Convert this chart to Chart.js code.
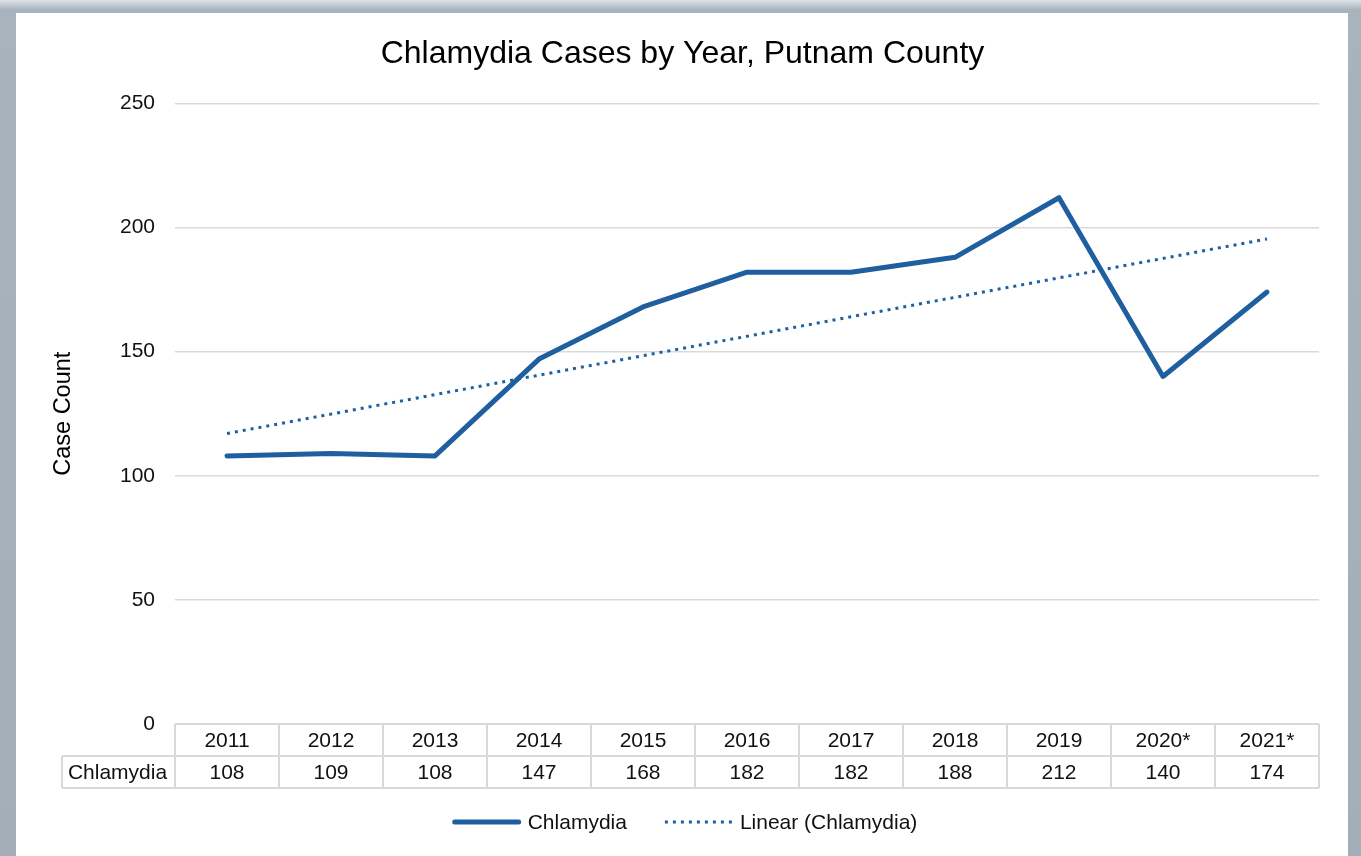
<!DOCTYPE html>
<html>
<head>
<meta charset="utf-8">
<script src="https://cdn.jsdelivr.net/npm/chart.js@4.4.1/dist/chart.umd.min.js"></script>
<style>
  html, body { margin: 0; padding: 0; }
  body {
    width: 1361px; height: 856px; overflow: hidden;
    background: linear-gradient(to bottom, #dde2e7 0px, #a8b3be 10px, #a3aeb9 100%);
    position: relative;
  }
  #panel {
    position: absolute; left: 16px; top: 13px;
    width: 1332px; height: 843px; background: #fff;
  }
</style>
</head>
<body>
<div id="panel"><canvas id="chlamydiaChart"></canvas></div>
<script>
// chart data
const years = ['2011', '2012', '2013', '2014', '2015', '2016', '2017', '2018', '2019', '2020*', '2021*'];
const cases = [108, 109, 108, 147, 168, 182, 182, 188, 212, 140, 174];
// linear trendline end points
const trendStart = 117;
const trendEnd = 195.4;
const yMin = 0;
const yMax = 250;
const yStep = 50;

const seriesName = 'Chlamydia';
const trendName = 'Linear (Chlamydia)';
const blue = '#1f5f9f';
const fontFamily = "'Liberation Sans', Arial, sans-serif";

Chart.defaults.font.family = fontFamily;
Chart.defaults.color = '#111';

const trendData = years.map((y, i) => i === 0 ? trendStart : (i === years.length - 1 ? trendEnd : null));

// draws the data table under the plot and the legend
const tableAndLegend = {
    id: 'tableAndLegend',
    afterDraw(chart) {
        const ctx = chart.ctx;
        const xs = chart.scales.x;
        const top = chart.chartArea.bottom;
        const rowH = 32;
        const colW = xs.width / years.length;
        const labelLeft = 46;

        ctx.save();
        ctx.strokeStyle = '#d9d9d9';
        ctx.lineWidth = 2;
        ctx.beginPath();
        ctx.moveTo(xs.left, top); ctx.lineTo(xs.right, top);
        ctx.moveTo(labelLeft, top + rowH); ctx.lineTo(xs.right, top + rowH);
        ctx.moveTo(labelLeft, top + 2 * rowH); ctx.lineTo(xs.right, top + 2 * rowH);
        ctx.moveTo(labelLeft, top + rowH); ctx.lineTo(labelLeft, top + 2 * rowH);
        for (let i = 0; i <= years.length; i++) {
            const x = xs.left + i * colW;
            ctx.moveTo(x, top); ctx.lineTo(x, top + 2 * rowH);
        }
        ctx.stroke();

        ctx.fillStyle = '#111';
        ctx.font = '21px ' + fontFamily;
        ctx.textAlign = 'center';
        ctx.textBaseline = 'middle';
        years.forEach((y, i) => {
            const cx = xs.getPixelForValue(i);
            ctx.fillText(y, cx, top + rowH / 2 + 1);
            ctx.fillText(String(cases[i]), cx, top + rowH * 1.5 + 1);
        });
        ctx.fillText(seriesName, (labelLeft + xs.left) / 2 - 1, top + rowH * 1.5 + 1);

        // legend
        const ly = 809;
        const lineLen = 68, textGap = 7, itemGap = 38;
        const w1 = ctx.measureText(seriesName).width;
        const w2 = ctx.measureText(trendName).width;
        const total = lineLen + textGap + w1 + itemGap + lineLen + textGap + w2;
        let x = chart.width / 2 - total / 2 + 3;
        const ds = chart.data.datasets;

        ctx.textAlign = 'left';
        ctx.strokeStyle = ds[0].borderColor;
        ctx.lineWidth = ds[0].borderWidth;
        ctx.lineCap = 'round';
        ctx.beginPath(); ctx.moveTo(x + 2, ly); ctx.lineTo(x + lineLen - 2, ly); ctx.stroke();
        x += lineLen + textGap;
        ctx.fillText(seriesName, x, ly + 1);
        x += w1 + itemGap;

        ctx.strokeStyle = ds[1].borderColor;
        ctx.lineWidth = ds[1].borderWidth;
        ctx.lineCap = 'butt';
        ctx.setLineDash(ds[1].borderDash);
        ctx.beginPath(); ctx.moveTo(x, ly); ctx.lineTo(x + lineLen, ly); ctx.stroke();
        ctx.setLineDash([]);
        x += lineLen + textGap;
        ctx.fillText(trendName, x, ly + 1);
        ctx.restore();
    }
};

const ctx = document.getElementById('chlamydiaChart').getContext('2d');
const chlamydiaChart = new Chart(ctx, {
    type: 'line',
    data: {
        labels: years,
        datasets: [{
            label: seriesName,
            data: cases,
            borderColor: blue,
            backgroundColor: blue,
            borderWidth: 5,
            pointRadius: 0,
            tension: 0,
            borderCapStyle: 'round',
            borderJoinStyle: 'round'
        }, {
            label: trendName,
            data: trendData,
            borderColor: blue,
            backgroundColor: blue,
            borderWidth: 3,
            borderDash: [3, 5],
            pointRadius: 0,
            spanGaps: true
        }]
    },
    options: {
        responsive: true,
        maintainAspectRatio: false,
        animation: false,
        layout: {
            padding: { top: 0, left: 30, right: 29, bottom: 0 }
        },
        plugins: {
            legend: { display: false },
            tooltip: { enabled: false },
            title: {
                display: true,
                text: 'Chlamydia Cases by Year, Putnam County',
                color: '#000',
                font: { size: 32, weight: 'normal' },
                padding: { top: 22, bottom: 30 }
            }
        },
        scales: {
            x: {
                offset: true,
                grid: { display: false },
                border: { display: false },
                ticks: { display: false },
                afterFit(scale) { scale.height = 132; }
            },
            y: {
                min: yMin,
                max: yMax,
                ticks: {
                    stepSize: yStep,
                    padding: 20,
                    font: { size: 21 },
                    color: '#111'
                },
                grid: {
                    color: '#d9d9d9',
                    lineWidth: 1.5,
                    drawTicks: false
                },
                border: { display: false },
                title: {
                    display: true,
                    text: 'Case Count',
                    color: '#000',
                    font: { size: 23.5 },
                    padding: { top: 3, bottom: 0 }
                },
                afterFit(scale) { scale.width = 129; }
            }
        }
    },
    plugins: [tableAndLegend]
});
</script>
</body>
</html>
